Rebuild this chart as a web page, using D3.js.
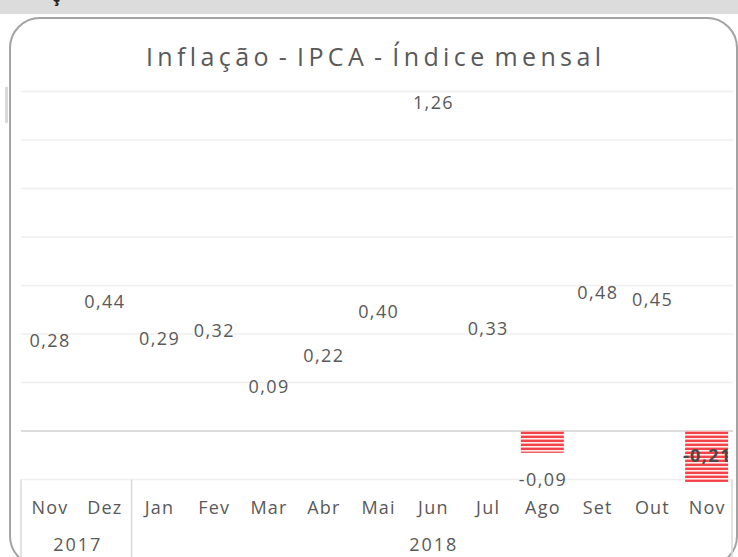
<!DOCTYPE html>
<html>
<head>
<meta charset="utf-8">
<script src="https://cdn.jsdelivr.net/npm/d3@7"></script>
<style>
  html, body { margin: 0; padding: 0; background: #ffffff; }
  svg { display: block; }
  text { font-family: "Open Sans", "Noto Sans", sans-serif; }
</style>
</head>
<body>
<svg id="chart" width="738" height="557"></svg>
<script>
// ---- data ----
const title = "Inflação - IPCA - Índice mensal";
const months = ["Nov", "Dez", "Jan", "Fev", "Mar", "Abr", "Mai", "Jun", "Jul", "Ago", "Set", "Out", "Nov"];
const values = [0.28, 0.44, 0.29, 0.32, 0.09, 0.22, 0.40, 1.26, 0.33, -0.09, 0.48, 0.45, -0.21];
const years = ["2017", "2018"];
const yearCounts = [2, 11];
const yTicks = [-0.2, 0, 0.2, 0.4, 0.6, 0.8, 1.0, 1.2, 1.4];

// ---- setup ----
const svg = d3.select("#chart");
const W = 738, H = 557;
const textColor = "#595959";
const locale = d3.formatLocale({decimal: ",", thousands: ".", grouping: [3], currency: ["R$", ""], minus: "-"});
const fmt = locale.format(".2f");

// page header band
svg.append("rect").attr("x", 0).attr("y", 0).attr("width", W).attr("height", 14).attr("fill", "#dcdcdd");
svg.append("text").attr("x", 52).attr("y", 2).attr("font-size", 16).attr("font-weight", "bold")
  .attr("fill", "#222").text("ç");

// chart frame
svg.append("rect").attr("x", 10).attr("y", 18).attr("width", 727).attr("height", 548)
  .attr("rx", 30).attr("ry", 30).attr("fill", "#ffffff").attr("stroke", "#a3a3a3").attr("stroke-width", 2);
svg.append("rect").attr("x", 5).attr("y", 87).attr("width", 3).attr("height", 36).attr("fill", "#d9d9d9");

const idx = d3.range(months.length);
const x = d3.scaleBand().domain(idx).range([22, 734]).paddingInner(0.215).paddingOuter(0.1075);
const y = d3.scaleLinear().domain([-0.2, 1.4]).range([479.5, 91.5]);

// gridlines
svg.append("g").selectAll("line").data(yTicks).join("line")
  .attr("x1", 21).attr("x2", 733)
  .attr("y1", d => y(d)).attr("y2", d => y(d))
  .attr("stroke", d => d === 0 ? "#d0d0d0" : "#efefef")
  .attr("stroke-width", 1.5);

// stripe pattern
const defs = svg.append("defs");
const pat = defs.append("pattern").attr("id", "stripes").attr("patternUnits", "userSpaceOnUse")
  .attr("width", 8).attr("height", 4);
pat.append("rect").attr("width", 8).attr("height", 4).attr("fill", "#f2434b");
pat.append("rect").attr("y", 2).attr("width", 8).attr("height", 1).attr("fill", "#ffffff").attr("opacity", 0.9);
pat.append("rect").attr("y", 3).attr("width", 8).attr("height", 1).attr("fill", "#ffaaaa");

// bars (positive bars have no fill in the reference)
svg.append("g").selectAll("rect").data(idx).join("rect")
  .attr("x", i => x(i))
  .attr("width", x.bandwidth())
  .attr("y", i => y(Math.max(0, values[i])))
  .attr("height", i => Math.abs(y(values[i]) - y(0)))
  .attr("fill", i => values[i] < 0 ? "url(#stripes)" : "none");

// data labels
const ls = 1.4;
const inside = v => v < 0 && y(v) + 33 > y(-0.2) + 10;
svg.append("g").selectAll("text").data(idx).join("text")
  .attr("x", i => x(i) + x.bandwidth() / 2 + ls / 2)
  .attr("y", i => {
    const v = values[i];
    if (v >= 0) return y(v) - 16;
    return inside(v) ? y(v) - 20 : y(v) + 33;
  })
  .attr("text-anchor", "middle")
  .attr("font-size", 18)
  .attr("letter-spacing", ls)
  .attr("font-weight", i => inside(values[i]) ? "bold" : "normal")
  .attr("fill", i => inside(values[i]) ? "#4a4a4a" : textColor)
  .text(i => fmt(values[i]));

// category axis (multi-level)
const axisTop = y(-0.2);
const axisG = svg.append("g");
axisG.selectAll("text.m").data(idx).join("text").attr("class", "m")
  .attr("x", i => x(i) + x.bandwidth() / 2 + 0.6)
  .attr("y", 514)
  .attr("text-anchor", "middle").attr("font-size", 18).attr("letter-spacing", 1.2)
  .attr("fill", textColor)
  .text(i => months[i]);

// year groups
let start = 0;
const groups = years.map((yr, k) => {
  const g = {year: yr, first: start, last: start + yearCounts[k] - 1};
  start += yearCounts[k];
  return g;
});
const step = x.step();
const groupEdge = i => x(i) - (step - x.bandwidth()) / 2;
const edges = [groupEdge(0) - 1].concat(groups.map(g => groupEdge(g.last) + step));
edges[edges.length - 1] = 732;
axisG.selectAll("line.sep").data(edges).join("line").attr("class", "sep")
  .attr("x1", d => d).attr("x2", d => d)
  .attr("y1", axisTop).attr("y2", H)
  .attr("stroke", "#d9d9d9").attr("stroke-width", 1.5);
axisG.selectAll("text.yr").data(groups).join("text").attr("class", "yr")
  .attr("x", g => (groupEdge(g.first) + groupEdge(g.last) + step) / 2 + 1)
  .attr("y", 551)
  .attr("text-anchor", "middle").attr("font-size", 18).attr("letter-spacing", 2)
  .attr("fill", textColor)
  .text(g => g.year);

// title, letter-spaced to the reference width
const t = svg.append("text").attr("x", 373.5).attr("y", 66).attr("text-anchor", "middle")
  .attr("font-size", 25).attr("word-spacing", -5).attr("fill", textColor).text(title);
const natural = t.node().getComputedTextLength();
const tls = Math.max(0, (455 - natural) / (title.length - 1));
t.attr("letter-spacing", tls).attr("x", 373.5 + tls / 2);
</script>
</body>
</html>
